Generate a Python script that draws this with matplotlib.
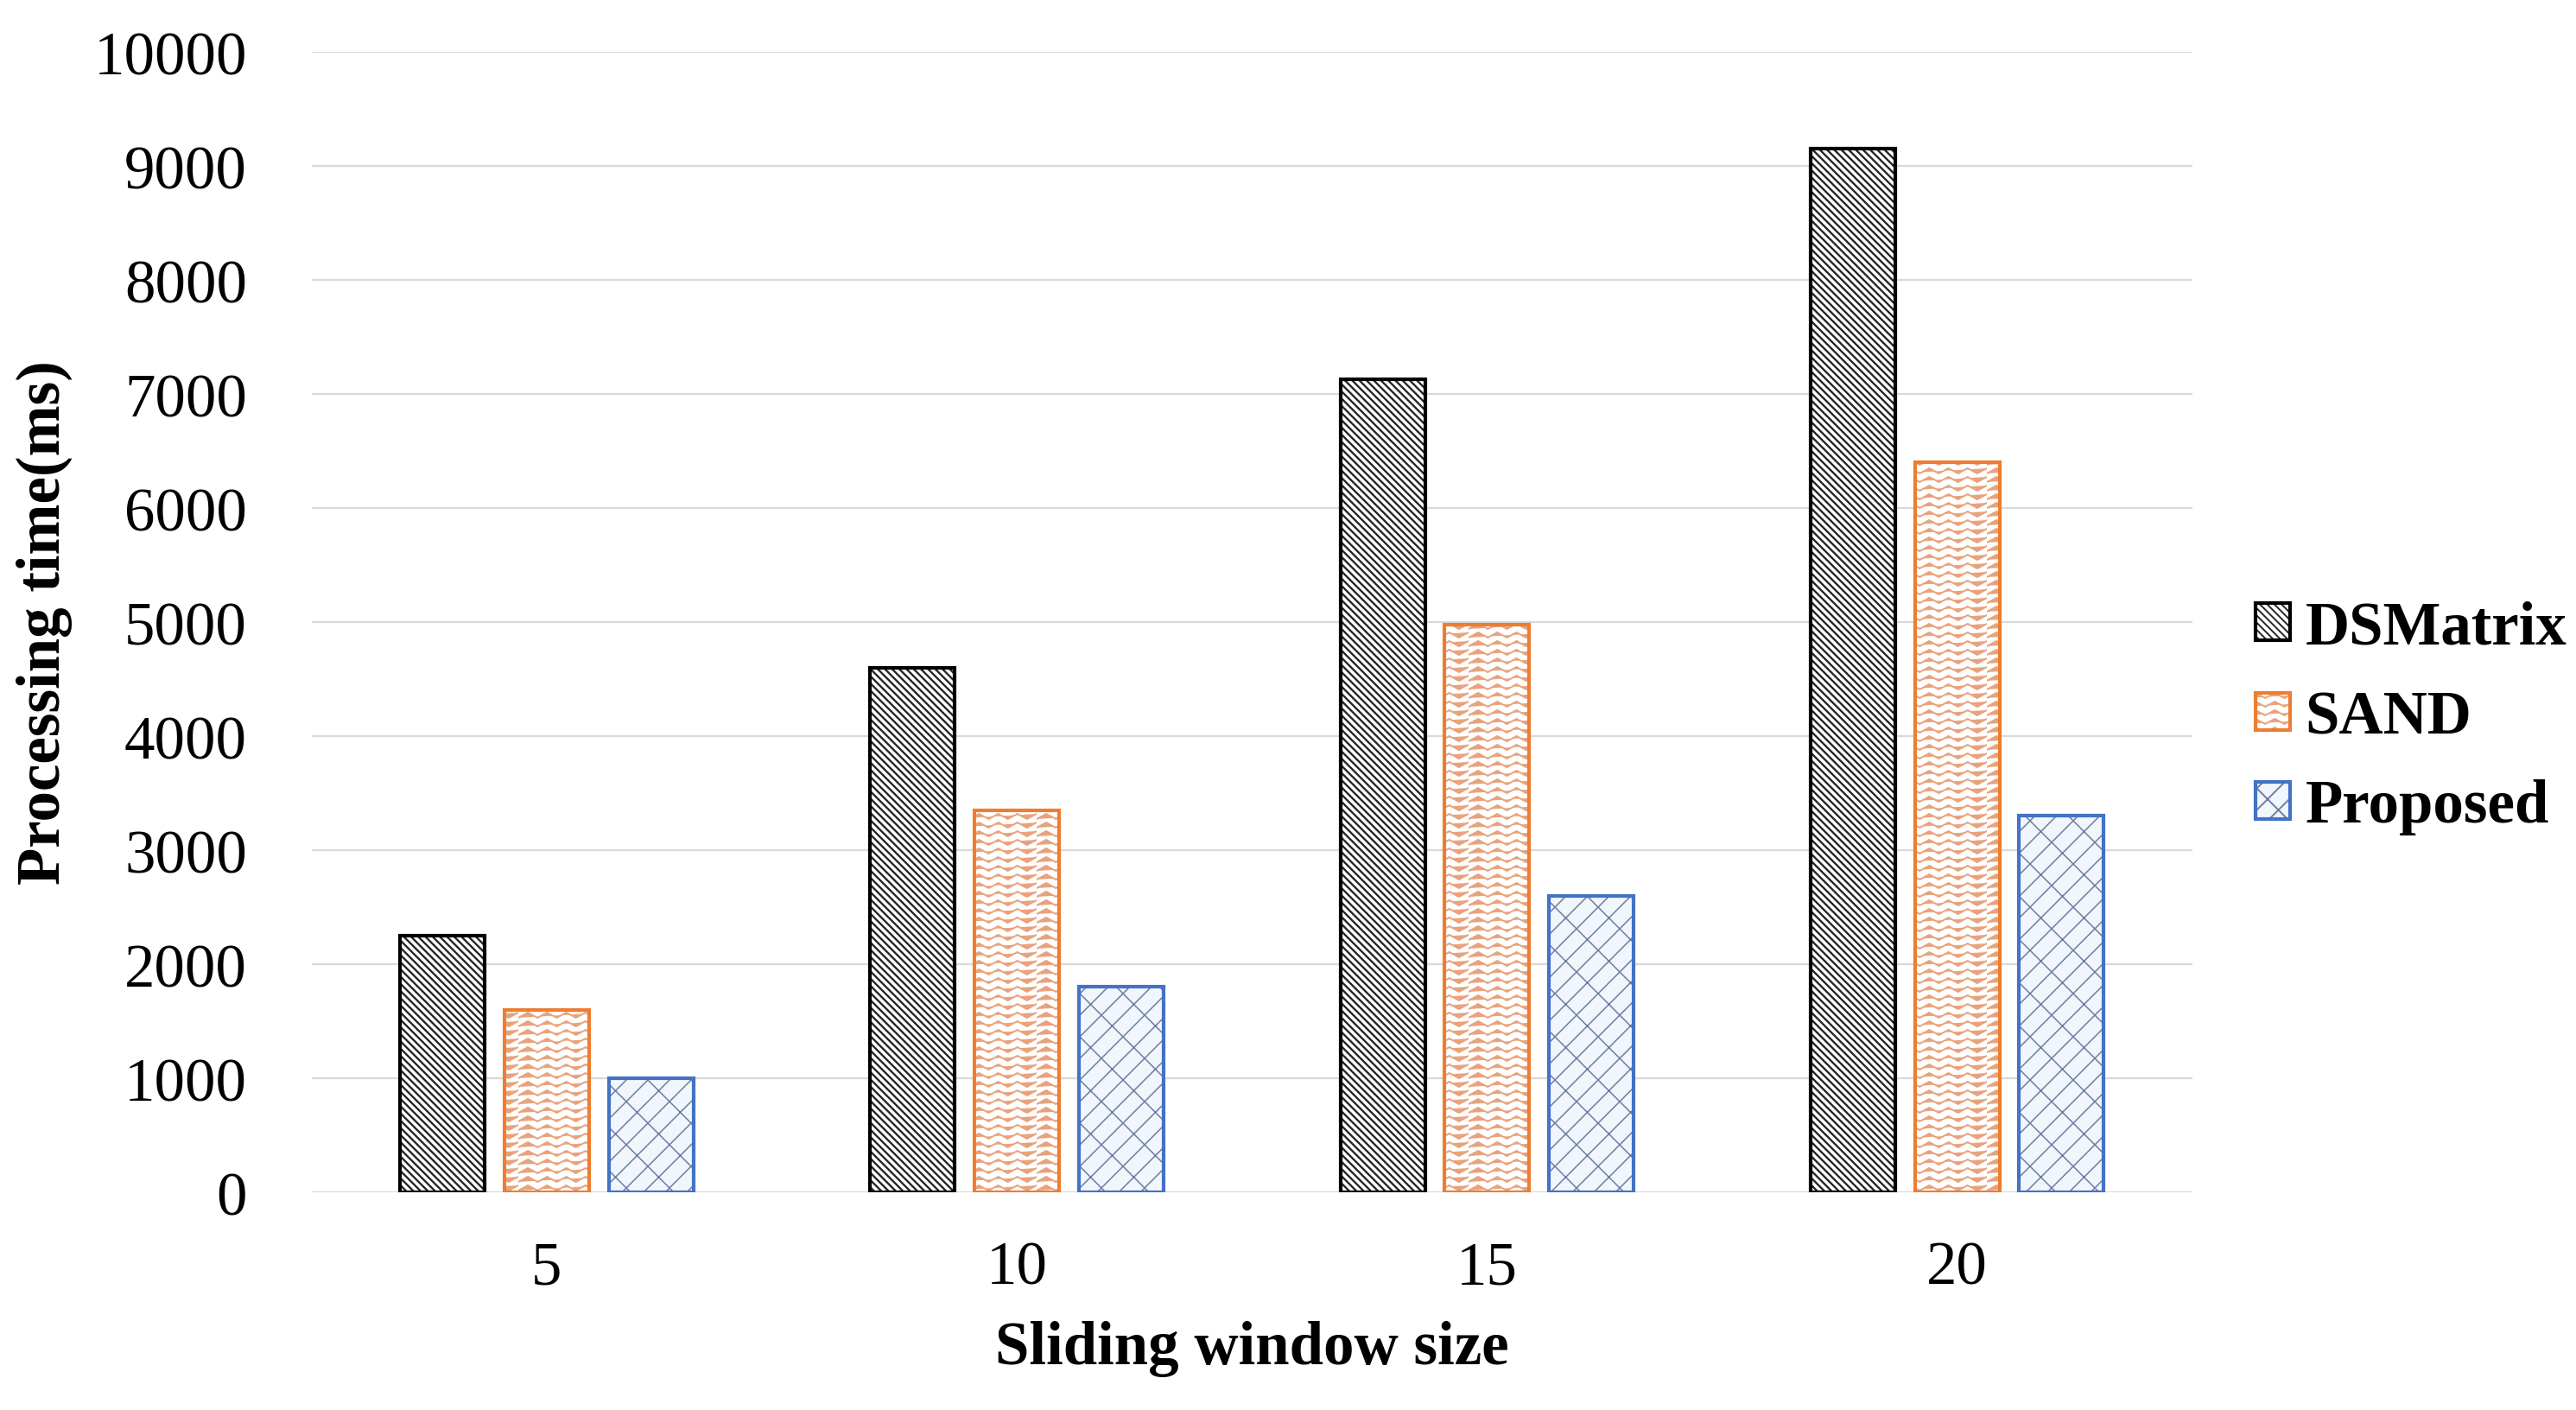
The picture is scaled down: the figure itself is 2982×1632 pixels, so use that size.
import warnings
import numpy as np
import matplotlib
matplotlib.use('Agg')
import matplotlib.pyplot as plt
import matplotlib.hatch as mhatch
from matplotlib.path import Path
from matplotlib.patches import Patch

warnings.filterwarnings('ignore')

window_sizes = ['5', '10', '15', '20']
dsmatrix = [2250, 4600, 7130, 9150]
sand = [1600, 3350, 4980, 6400]
proposed = [1000, 1800, 2600, 3300]


# wavy hatch like the excel pattern, '~' character
class ZigZagHatch(mhatch.HatchPatternBase):
    def __init__(self, hatch, density):
        self.num_lines = int(hatch.count('~') * 5)
        self.teeth = 9
        self.num_vertices = self.num_lines * (self.teeth + 1)

    def set_vertices_and_codes(self, vertices, codes):
        steps, step = np.linspace(0, 1, self.num_lines, False, retstep=True)
        steps += step / 2
        n = self.teeth + 1
        xs = np.linspace(0, 1, n)
        amp = step * 0.3 * ((np.arange(n) % 2) * 2 - 1)
        for i, y in enumerate(steps):
            vertices[i * n:(i + 1) * n, 0] = xs
            vertices[i * n:(i + 1) * n, 1] = y + amp
            codes[i * n] = Path.MOVETO
            codes[i * n + 1:(i + 1) * n] = Path.LINETO


# diagonal brick hatch, 'b' character
class BrickHatch(mhatch.HatchPatternBase):
    def __init__(self, hatch, density):
        self.on = 'b' in hatch
        self.rows = list(range(-4, 5))
        self.ks = list(range(-1, 5))
        if self.on:
            self.num_vertices = len(self.rows) * 2 + len(self.rows) * len(self.ks) * 2
        else:
            self.num_vertices = 0

    def set_vertices_and_codes(self, vertices, codes):
        v = []
        for j in self.rows:
            c = j / 4
            v.append((0, c))
            v.append((1, 1 + c))
        for j in self.rows:
            c = j / 4
            for k in self.ks:
                p = k / 4 + (j % 2) / 8
                v.append((p, p + c))
                v.append((p - 1 / 8, p + c + 1 / 8))
        vertices[:] = np.array(v)
        codes[0::2] = Path.MOVETO
        codes[1::2] = Path.LINETO


mhatch._hatch_types.append(ZigZagHatch)
mhatch._hatch_types.append(BrickHatch)

plt.rcParams['font.family'] = ['Liberation Serif', 'DejaVu Serif']
plt.rcParams['hatch.linewidth'] = 1.4
FS = 51

series = [
    ('DSMatrix', dsmatrix, '#000000', '#FFFFFF', '#262626', r'\\\\', 1.7),
    ('SAND', sand, '#ED7D31', '#FFFFFF', '#E8A37C', '~~', 1.4),
    ('Proposed', proposed, '#4472C4', '#F0F6FC', '#6E7EA2', 'b', 1.1),
]

fig = plt.figure(figsize=(29.82, 16.33), dpi=100)
ax = fig.add_axes([0.121, 0.1543, 0.730, 0.8083])

x = np.arange(len(window_sizes))
width = 0.18
offset = 0.222
handles = []
for i, (name, vals, edge, face, hcol, hatch, hlw) in enumerate(series):
    pos = x + (i - 1) * offset
    with plt.rc_context({'hatch.linewidth': hlw}):
        bars = ax.bar(pos, vals, width, color=face, edgecolor=hcol, hatch=hatch,
                      linewidth=0, zorder=3)
        h1 = Patch(facecolor=face, edgecolor=hcol, hatch=hatch, linewidth=0)
    for b in list(bars) + [h1]:
        if hasattr(b, 'set_hatch_linewidth'):
            b.set_hatch_linewidth(hlw)
    ax.bar(pos, vals, width, fill=False, edgecolor=edge, linewidth=3,
           zorder=4)
    h2 = Patch(fill=False, edgecolor=edge, linewidth=3)
    handles.append((h1, h2))

ax.set_xlim(-0.5, 3.5)
ax.set_ylim(0, 10000)
ax.set_yticks(range(0, 10001, 1000))
ax.set_xticks(x)
ax.set_xticklabels(window_sizes)
ax.grid(axis='y', color='#D9D9D9', linewidth=1.6, zorder=0)
ax.set_axisbelow(True)
for s in ax.spines.values():
    s.set_visible(False)
ax.tick_params(axis='both', length=0, labelsize=FS)
ax.tick_params(axis='y', pad=54)
ax.tick_params(axis='x', pad=40)

ax.set_xlabel('Sliding window size', fontsize=FS, fontweight='bold')
ax.set_ylabel('Processing time(ms)', fontsize=FS, fontweight='bold')
ax.xaxis.set_label_coords(0.5, -0.112)
ax.yaxis.set_label_coords(-0.127, 0.5)

fig.legend(handles, [s[0] for s in series], loc='center left',
           bbox_to_anchor=(0.8756, 0.4907), frameon=False,
           prop={'size': FS, 'weight': 'bold'}, borderpad=0, borderaxespad=0,
           handlelength=0.56, handleheight=0.56, handletextpad=0.25,
           labelspacing=0.54)

fig.savefig('out.png', dpi=100)
